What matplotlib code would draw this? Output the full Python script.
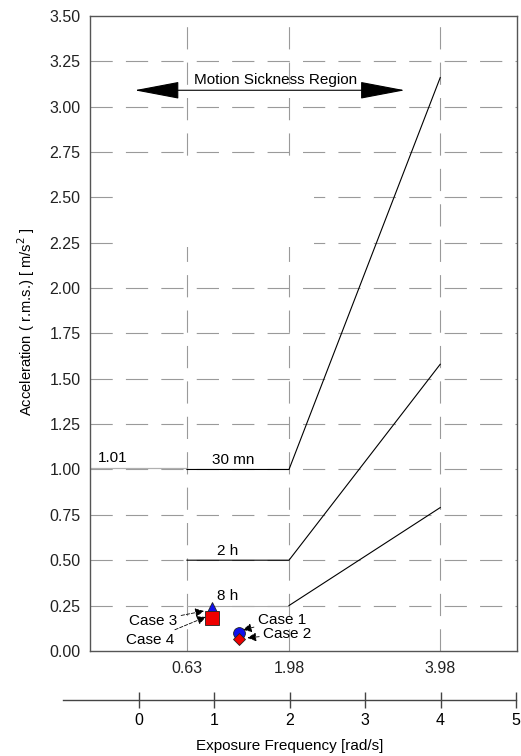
import numpy as np
import matplotlib
matplotlib.use('Agg')
import matplotlib.pyplot as plt
from matplotlib.patches import Rectangle, FancyArrowPatch

plt.rcParams['font.family'] = ['Liberation Sans', 'DejaVu Sans']
plt.rcParams['lines.scale_dashes'] = False

# exposure limits (ISO-like curves)
freq = [0.63, 1.98, 3.98]
acc_30mn = [1.0, 1.0, 3.16]
acc_2h = [0.5, 0.5, 1.58]
acc_8h = [0.25, 0.25, 0.79]
ref_level = 1.01

# measured cases
case_names = ['Case 1', 'Case 2', 'Case 3', 'Case 4']
case_x = [1.32, 1.32, 0.96, 0.96]
case_y = [0.10, 0.066, 0.235, 0.18]
case_color = ['#1010ee', '#ee0000', '#1010ee', '#ee0000']
case_marker = ['o', 'D', '^', 's']
case_size = [8.5, 6.5, 8.5, 9.5]
label_xy = [(1.89, 0.17), (1.96, 0.094), (0.18, 0.165), (0.14, 0.06)]
arrow_off = [(0.05, 0.016), (0.11, 0.006), (-0.105, -0.015), (-0.08, 0.007)]

yticks = np.arange(0, 3.51, 0.25)
bottom_ticks = [0, 1, 2, 3, 4, 5]

fig = plt.figure(figsize=(5.21, 7.56), dpi=100)
ax = fig.add_axes([0.173, 0.139, 0.820, 0.840])

grid_kw = dict(color='#9a9a9a', lw=0.8, linestyle=(0, (16, 9.5)), zorder=0.5)
for y in yticks[1:-1]:
    ax.axhline(y, **grid_kw)
for x in freq:
    ax.axvline(x, **grid_kw)

# blank area (hidden legend box in original)
ax.add_patch(Rectangle((-0.19, 2.225), 2.5, 0.465, facecolor='white',
                       edgecolor='none', zorder=1))

ax.plot(freq, acc_30mn, color='black', lw=0.8, zorder=2)
ax.plot(freq, acc_2h, color='black', lw=0.8, zorder=2)
ax.plot(freq[:2], acc_8h[:2], color='#aaaaaa', lw=0.8, zorder=1.2)
ax.plot(freq[1:], acc_8h[1:], color='black', lw=0.8, zorder=2)
ax.plot([-0.65, freq[0]], [ref_level, ref_level], color='#b0b0b0', lw=0.9, zorder=1.2)

fs = 11
ax.text(-0.35, ref_level + 0.012, '1.01', fontsize=fs, ha='center', va='bottom')
ax.text(1.24, acc_30mn[0] + 0.012, '30 mn', fontsize=fs, ha='center', va='bottom')
ax.text(1.17, acc_2h[0] + 0.012, '2 h', fontsize=fs, ha='center', va='bottom')
ax.text(1.17, acc_8h[0] + 0.012, '8 h', fontsize=fs, ha='center', va='bottom')

for i in [0, 2, 3, 1]:
    ax.plot(case_x[i], case_y[i], marker=case_marker[i], ms=case_size[i],
            color=case_color[i], mec='#222222', mew=0.6, zorder=4)

for i in range(4):
    tx, ty = label_xy[i]
    dx, dy = arrow_off[i]
    ax.annotate(case_names[i], xy=(case_x[i] + dx, case_y[i] + dy),
                xytext=(tx, ty), fontsize=fs, ha='center', va='center',
                arrowprops=dict(arrowstyle='-|>', color='black', lw=0.6,
                                linestyle=(0, (2.5, 1.2)), mutation_scale=13,
                                shrinkA=1, shrinkB=0), zorder=3)

# motion sickness region arrow
arr = FancyArrowPatch((-0.10, 3.09), (3.55, 3.09),
                      arrowstyle='<|-|>,head_length=2.9,head_width=0.55',
                      mutation_scale=10, color='black', lw=0.8, zorder=3)
ax.add_patch(arr)
ax.text(1.8, 3.11, 'Motion Sickness Region', fontsize=fs, ha='center', va='bottom')

ax.set_xlim(-0.65, 5.0)
ax.set_ylim(0, 3.5)
ax.set_yticks(yticks)
ax.set_yticklabels(['%.2f' % v for v in yticks])
ax.set_xticks(freq)
ax.set_xticklabels(['%.2f' % v for v in freq])
ax.tick_params(axis='both', length=0, labelsize=11.5, colors='#222222')
ax.tick_params(axis='y', pad=7)
ax.tick_params(axis='x', pad=7)
for s in ax.spines.values():
    s.set_color('#555555')
    s.set_linewidth(1.0)
ax.set_ylabel('Acceleration ( r.m.s.) [ m/s$^2$ ]', fontsize=10.6)
ax.yaxis.set_label_coords(-0.124, 0.519)

# frequency axis in rad/s
ax2 = fig.add_axes([0.1215, 0.074, 0.869, 0.001])
ax2.set_xlim(-1.0, 5.0)
ax2.set_ylim(0, 1)
ax2.set_yticks([])
for s in ['top', 'left', 'right']:
    ax2.spines[s].set_visible(False)
ax2.spines['bottom'].set_color('#444444')
ax2.spines['bottom'].set_linewidth(1.0)
ax2.set_xticks(bottom_ticks)
ax2.tick_params(axis='x', direction='inout', length=12, width=1.0,
                color='#444444', labelsize=11.5, pad=3)
ax2.patch.set_visible(False)
ax2.set_xlabel('Exposure Frequency [rad/s]', fontsize=11, labelpad=8)

fig.savefig('out.png', dpi=100)
